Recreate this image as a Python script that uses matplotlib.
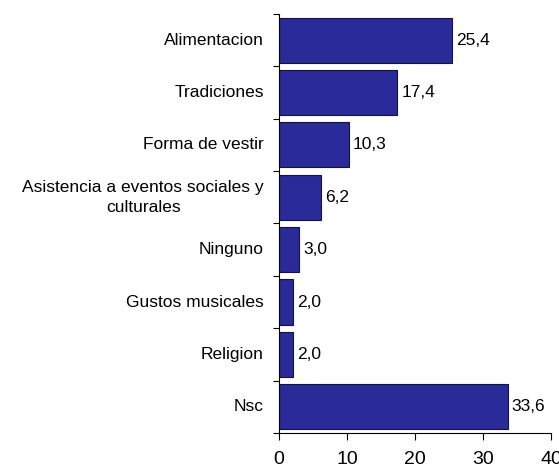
import matplotlib.pyplot as plt
import numpy as np

plt.rcParams['font.family'] = ['Liberation Sans', 'DejaVu Sans']

categories = ['Alimentacion', 'Tradiciones', 'Forma de vestir',
              'Asistencia a eventos sociales y\nculturales', 'Ninguno',
              'Gustos musicales', 'Religion', 'Nsc']
values = [25.4, 17.4, 10.3, 6.2, 3.0, 2.0, 2.0, 33.6]

fig = plt.figure(figsize=(5.59, 4.68), dpi=100)
ax = fig.add_axes([0.499, 0.075, 0.487, 0.895])

y = np.arange(len(categories))
ax.barh(y, values, height=0.86, color='#2a2a98', edgecolor='#141440', linewidth=0.8)

for yi, v in zip(y, values):
    ax.text(v + 0.6, yi, f'{v:.1f}'.replace('.', ','), va='center', ha='left', fontsize=12.5)

ax.set_ylim(len(categories) - 0.5, -0.5)
ax.set_xlim(0, 40)
ax.set_xticks([0, 10, 20, 30, 40])
ax.tick_params(axis='x', labelsize=14, length=5, direction='out', pad=8)

# category labels sit between the boundary ticks
ax.set_yticks(np.arange(len(categories) + 1) - 0.5)
ax.set_yticklabels([])
ax.tick_params(axis='y', length=4, direction='out')
for yi, c in zip(y, categories):
    ax.text(-2.2, yi, c, ha='right', va='center', fontsize=12.5,
            multialignment='center', linespacing=1.45)

for s in ['top', 'right']:
    ax.spines[s].set_visible(False)

fig.savefig('out.png', dpi=100)
